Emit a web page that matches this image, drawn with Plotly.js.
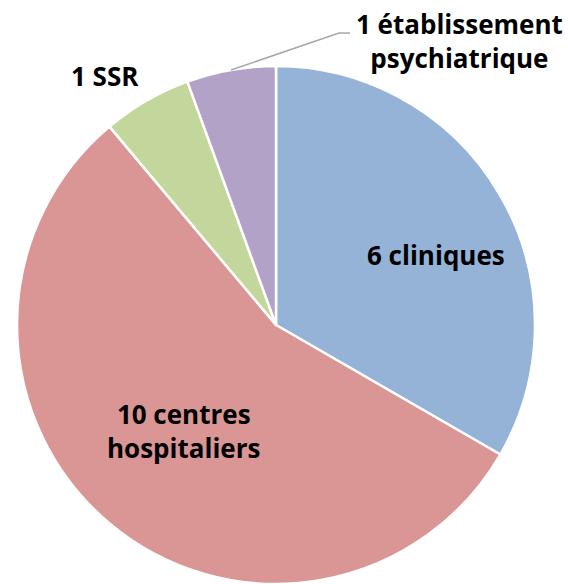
<!DOCTYPE html>
<html><head><meta charset="utf-8">
<script src="https://cdn.plot.ly/plotly-3.0.1.min.js"></script>
<style>html,body{margin:0;padding:0;background:#fff}</style>
</head><body>
<div id="chart" style="width:568px;height:584px"></div>
<script>
const categories = ["6 cliniques", "10 centres<br>hospitaliers", "1 SSR", "1 établissement<br>psychiatrique"];
const values = [6, 10, 1, 1];
const colors = ["#95B3D7", "#D99694", "#C3D69B", "#B3A2C7"];

const W = 568, H = 584;
const px = x => x / W, py = y => 1 - y / H;
const font = {family: "'Open Sans', Lato, sans-serif", size: 26, color: "#000"};
const labelPos = [[436, 255], [183, 431], [105, 76], [459, 41]];

const data = [{
  type: "pie",
  values: values,
  labels: categories,
  marker: {colors: colors, line: {color: "#fff", width: 2.5}},
  sort: false,
  direction: "clockwise",
  rotation: 0,
  textinfo: "none",
  hoverinfo: "label+value",
  domain: {x: [16 / W, 536 / W], y: [0, 1 - 66 / H]},
  showlegend: false
}];

const layout = {
  width: W, height: H,
  margin: {l: 0, r: 0, t: 0, b: 0},
  paper_bgcolor: "#fff",
  showlegend: false,
  annotations: categories.map((c, i) => ({
    text: "<b>" + c + "</b>",
    x: px(labelPos[i][0]), y: py(labelPos[i][1]),
    xref: "paper", yref: "paper",
    xanchor: "center", yanchor: "middle",
    showarrow: false, font: font, align: "center"
  })),
  shapes: [{
    type: "path",
    xref: "paper", yref: "paper",
    path: `M ${px(231)} ${py(70)} L ${px(339)} ${py(33)} L ${px(350)} ${py(33)}`,
    line: {color: "#A6A6A6", width: 1.5}
  }]
};

Plotly.newPlot("chart", data, layout, {displayModeBar: false, staticPlot: true});
</script>
</body></html>
